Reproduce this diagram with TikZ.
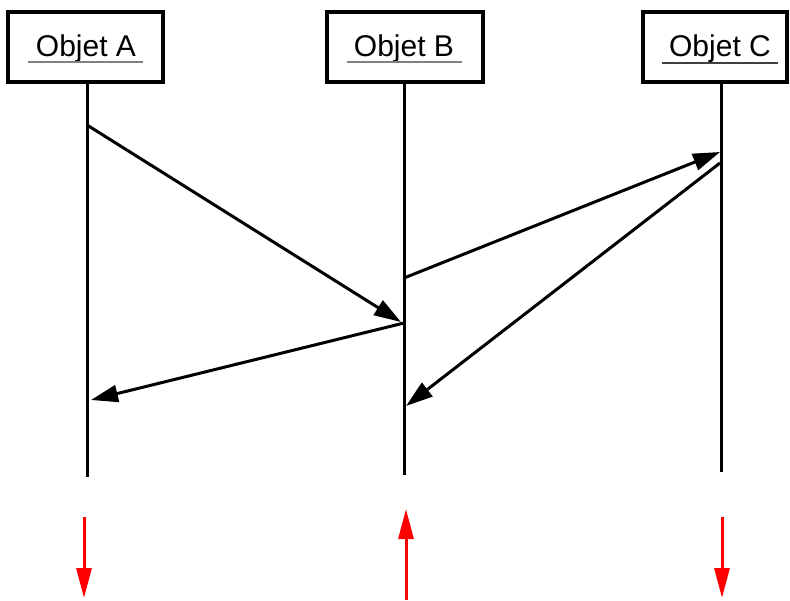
\documentclass[tikz,border=0pt]{standalone}
\usepackage{fontspec}
\setmainfont{Liberation Sans}
\usetikzlibrary{arrows.meta}
\begin{document}
\begin{tikzpicture}[x=1pt,y=-1pt,
  objbox/.style={draw, line width=3.4pt, minimum height=70pt, inner sep=0pt},
  lbl/.style={anchor=base, font=\fontsize{30}{32}\selectfont},
  life/.style={line width=3pt},
  msg/.style={line width=3pt, -{Triangle[length=27pt,width=17pt]}},
  redarr/.style={line width=3pt, red, -{Triangle[length=30pt,width=15pt]}},
  uline/.style={line width=2pt, gray}]
\useasboundingbox (0,0) rectangle (790,600);
% boxes
\node[objbox, minimum width=155pt] (A) at (85.5,47) {};
\node[objbox, minimum width=156pt] (B) at (405,47) {};
\node[objbox, minimum width=144pt] (C) at (715,47) {};
\node[lbl] (tA) at (86,56) {Objet A};
\node[lbl] (tB) at (404,56) {Objet B};
\node[lbl] (tC) at (720,56) {Objet C};
\draw[uline] (28,62) -- (143,62);
\draw[uline] (347,62) -- (462,62);
\draw[uline, black!75] (662,63) -- (778,63);
% lifelines
\coordinate (A0) at (87,82); \coordinate (A1) at (87,477);
\coordinate (B0) at (404,82); \coordinate (B1) at (404,475);
\coordinate (C0) at (721,82); \coordinate (C1) at (721,472);
\draw[life] (A0) -- (A1);
\draw[life] (B0) -- (B1);
\draw[life] (C0) -- (C1);
% messages
\coordinate (m1s) at (87,125); \coordinate (m1e) at (401,322);
\coordinate (m2s) at (404,278); \coordinate (m2e) at (720,152);
\coordinate (m3s) at (404,323); \coordinate (m3e) at (91,400);
\coordinate (m4s) at (720,163); \coordinate (m4e) at (406,406);
\draw[msg] (m1s) -- (m1e);
\draw[msg] (m2s) -- (m2e);
\draw[msg] (m3s) -- (m3e);
\draw[msg] (m4s) -- (m4e);
% red arrows
\coordinate (rA0) at (84,517); \coordinate (rA1) at (84,598);
\coordinate (rB0) at (406,600); \coordinate (rB1) at (406,509);
\coordinate (rC0) at (722,517); \coordinate (rC1) at (722,598);
\draw[redarr] (rA0) -- (rA1);
\draw[redarr] (rB0) -- (rB1);
\draw[redarr] (rC0) -- (rC1);
\end{tikzpicture}
\end{document}
